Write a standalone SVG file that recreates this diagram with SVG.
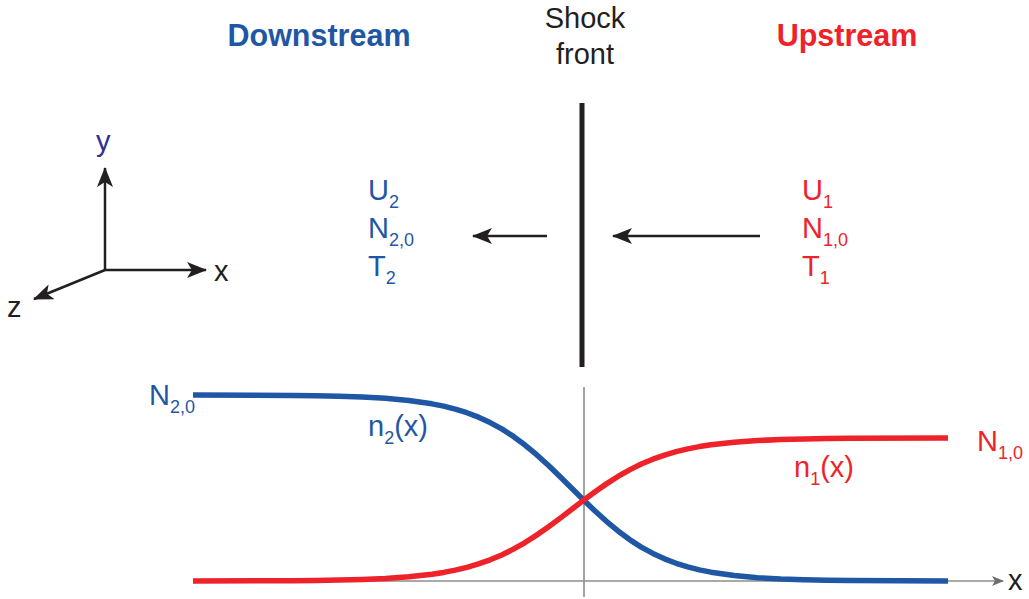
<svg xmlns="http://www.w3.org/2000/svg" width="1029" height="599" viewBox="0 0 1029 599">
<style>
text{font-family:"Liberation Sans",Arial,sans-serif;font-size:29px}
.b{fill:#1f57a5}
.r{fill:#ee2229}
.k{fill:#231f20}
.sub{font-size:18px}
.ttl{font-weight:bold;font-size:30.5px}
.ax{stroke:#231f20;stroke-width:2.5;fill:none}
.g{stroke:#8c8c8c;stroke-width:1.6;fill:none}
.cv{fill:none;stroke-width:5.5;stroke-linejoin:round;stroke-linecap:butt}
</style>
<defs>
<marker id="ah" viewBox="0 0 20 16" refX="19" refY="8" markerWidth="20" markerHeight="16" markerUnits="userSpaceOnUse" orient="auto">
<path d="M0,0 L20,8 L0,16 L5,8 Z" fill="#231f20"/>
</marker>
<marker id="ga" viewBox="0 0 12 10" refX="11" refY="5" markerWidth="12" markerHeight="10" markerUnits="userSpaceOnUse" orient="auto">
<path d="M0,0 L12,5 L0,10 L3,5 Z" fill="#6d6e71"/>
</marker>
</defs>
<g id="titles">
<text class="ttl b" x="319" y="46" text-anchor="middle">Downstream</text>
<text class="ttl r" x="847" y="46" text-anchor="middle">Upstream</text>
<text class="k" x="585" y="28" text-anchor="middle">Shock</text>
<text class="k" x="585" y="64" text-anchor="middle">front</text>
</g>
<g id="shock-front"><line x1="582" y1="103" x2="582" y2="367" stroke="#231f20" stroke-width="5"/></g>
<g id="axes3d">
<line class="ax" x1="105" y1="270" x2="105" y2="168" marker-end="url(#ah)"/>
<line class="ax" x1="105" y1="270" x2="206" y2="270" marker-end="url(#ah)"/>
<line class="ax" x1="105" y1="270" x2="34" y2="299" marker-end="url(#ah)"/>
<text x="96" y="151" fill="#2e3192">y</text>
<text class="k" x="214" y="281">x</text>
<text class="k" x="7" y="317">z</text>
</g>
<g id="downstream-params">
<text class="b" x="368" y="200">U<tspan class="sub" dy="8">2</tspan></text>
<text class="b" x="368" y="238">N<tspan class="sub" dy="8">2,0</tspan></text>
<text class="b" x="368" y="276">T<tspan class="sub" dy="8">2</tspan></text>
</g>
<g id="upstream-params">
<text class="r" x="802" y="200">U<tspan class="sub" dy="8">1</tspan></text>
<text class="r" x="802" y="238">N<tspan class="sub" dy="8">1,0</tspan></text>
<text class="r" x="802" y="276">T<tspan class="sub" dy="8">1</tspan></text>
</g>
<g id="connectors">
<line class="ax" x1="547" y1="236" x2="473" y2="236" marker-end="url(#ah)"/>
<line class="ax" x1="760" y1="236" x2="613" y2="236" marker-end="url(#ah)"/>
</g>
<g id="plot">
<line class="g" x1="584" y1="387" x2="584" y2="597"/>
<line class="g" x1="193" y1="581" x2="1003" y2="581" marker-end="url(#ga)"/>
<text class="k" x="1008" y="590">x</text>
<polyline class="cv" stroke="#1f57a5" points="193,395 292.5,395.46 315.75,395.76 339,396.24 362.25,397.04 385.5,398.35 408.75,400.45 432,403.82 443.6,406.18 455.25,409.11 466.9,412.74 478.5,417.17 490.1,422.54 501.75,428.93 513.4,436.42 525,445.02 536.6,454.67 548.25,465.22 559.9,476.43 571.5,488 583.1,499.57 594.75,510.79 606.4,521.33 618,530.98 629.6,539.58 641.25,547.07 652.9,553.46 664.5,558.83 676.1,563.26 687.75,566.88 699.4,569.82 711,572.18 734.25,575.55 757.5,577.65 780.75,578.96 804,579.75 827.25,580.24 850.5,580.54 948,581"/>
<polyline class="cv" stroke="#ee2229" points="193,581 292.5,580.65 315.75,580.42 339,580.04 362.25,579.43 385.5,578.43 408.75,576.81 432,574.22 443.6,572.41 455.25,570.15 466.9,567.36 478.5,563.95 490.1,559.83 501.75,554.92 513.4,549.15 525,542.55 536.6,535.12 548.25,527.02 559.9,518.39 571.5,509.5 583.1,500.61 594.75,491.98 606.4,483.88 618,476.45 629.6,469.85 641.25,464.08 652.9,459.17 664.5,455.05 676.1,451.64 687.75,448.85 699.4,446.59 711,444.78 734.25,442.19 757.5,440.57 780.75,439.57 804,438.96 827.25,438.59 850.5,438.36 948,438"/>
<text class="b" x="149" y="405">N<tspan class="sub" dy="8">2,0</tspan></text>
<text class="b" x="368" y="436">n<tspan class="sub" dy="8">2</tspan><tspan dy="-8">(x)</tspan></text>
<text class="r" x="977" y="451">N<tspan class="sub" dy="8">1,0</tspan></text>
<text class="r" x="794" y="477">n<tspan class="sub" dy="8">1</tspan><tspan dy="-8">(x)</tspan></text>
</g>
</svg>
